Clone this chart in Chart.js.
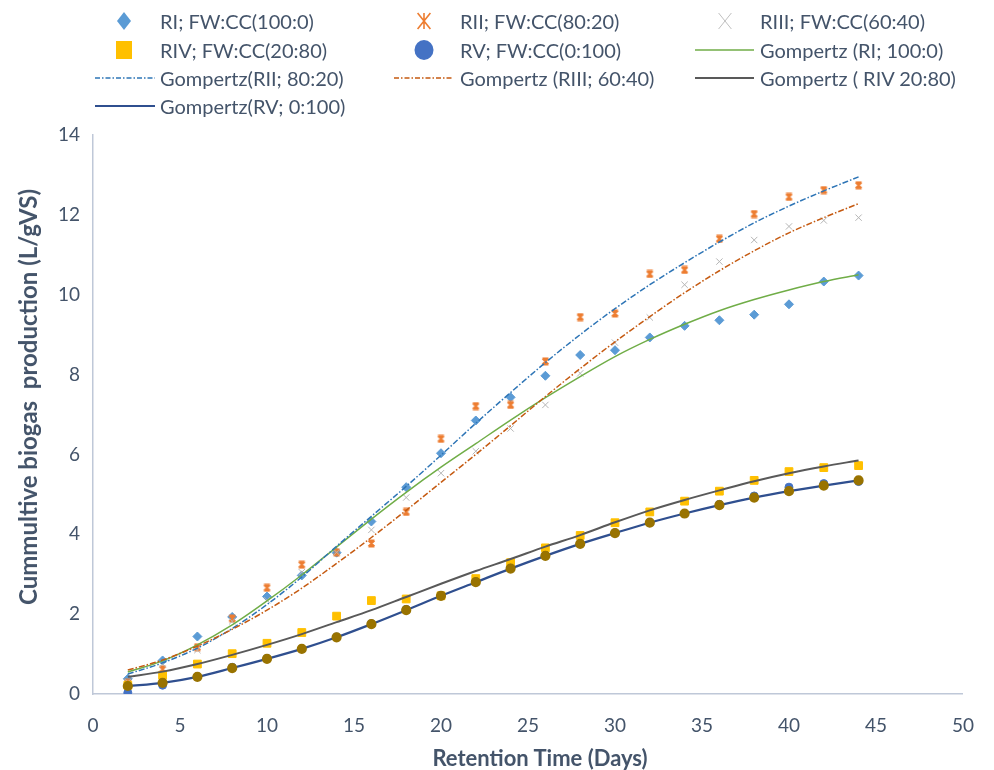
<!DOCTYPE html>
<html>
<head>
<meta charset="utf-8">
<script src="https://cdn.jsdelivr.net/npm/chart.js@4"></script>
<style>
  html, body { margin: 0; padding: 0; background: #fff; }
  #wrap { position: relative; width: 994px; height: 770px; }
  #c { position: absolute; left: 0; top: 0; }
  .lg { position: absolute; font-family: Lato, "Open Sans", sans-serif; font-size: 20px; color: #44546A; white-space: nowrap; line-height: 24px; }
  .mk { position: absolute; }
  .ttl { position: absolute; font-family: Lato, "Open Sans", sans-serif; font-weight: bold; color: #44546A; white-space: pre; line-height: 26px; }
  #xt { font-size: 22px; left: 540px; top: 758px; transform: translate(-50%, -50%); }
  #yt { font-size: 24px; left: 28px; top: 397px; transform: translate(-50%, -50%) rotate(-90deg); }
</style>
</head>
<body>
<div id="wrap">
  <canvas id="c" width="994" height="770"></canvas>
  <div id="legend"></div>
  <div class="ttl" id="xt"></div>
  <div class="ttl" id="yt"></div>
</div>
<script>
// ---- data ----
const days = [2,4,6,8,10,12,14,16,18,20,22,24,26,28,30,32,34,36,38,40,42,44];
const xTicks = [0,5,10,15,20,25,30,35,40,45,50];
const yTicks = [0,2,4,6,8,10,12,14];
const xTitle = 'Retention Time (Days)';
const yTitle = 'Cummultive biogas  production (L/gVS)';

const RI   = [0.38,0.84,1.44,1.93,2.44,2.97,3.54,4.32,5.18,6.03,6.85,7.43,7.97,8.49,8.61,8.93,9.22,9.36,9.50,9.76,10.33,10.48];
const RII  = [0.28,0.62,1.17,1.89,2.66,3.24,3.55,3.77,4.56,6.39,7.21,7.24,8.33,9.44,9.53,10.52,10.62,11.40,12.02,12.45,12.62,12.74];
const RIII = [0.30,0.75,1.10,1.82,2.35,3.05,3.55,4.11,4.92,5.53,6.08,6.65,7.24,8.03,8.80,9.43,10.25,10.83,11.37,11.71,11.86,11.93];
const RIV  = [0.22,0.47,0.75,1.01,1.27,1.54,1.95,2.34,2.38,2.46,2.89,3.29,3.66,3.97,4.29,4.56,4.83,5.08,5.35,5.57,5.67,5.72];
const RV   = [0.03,0.22,0.43,0.67,0.89,1.13,1.43,1.76,2.12,2.47,2.81,3.15,3.47,3.76,4.04,4.29,4.52,4.75,4.96,5.18,5.27,5.32];

const gRI   = [0.55,0.83,1.23,1.73,2.33,2.98,3.68,4.38,5.05,5.68,6.27,6.86,7.42,7.95,8.45,8.88,9.26,9.60,9.88,10.12,10.33,10.50];
const gRII  = [0.50,0.78,1.15,1.64,2.24,2.93,3.70,4.45,5.20,5.98,6.78,7.55,8.30,9.00,9.65,10.25,10.80,11.32,11.80,12.22,12.60,12.95];
const gRIII = [0.60,0.85,1.20,1.62,2.10,2.65,3.27,3.92,4.60,5.30,6.00,6.72,7.45,8.15,8.82,9.45,10.05,10.60,11.10,11.55,11.93,12.28];
const gRIV  = [0.43,0.56,0.75,0.98,1.23,1.50,1.80,2.10,2.43,2.76,3.08,3.38,3.69,3.98,4.30,4.60,4.86,5.10,5.33,5.53,5.70,5.85];
const gRV   = [0.20,0.28,0.43,0.65,0.88,1.13,1.42,1.75,2.10,2.46,2.80,3.14,3.46,3.76,4.03,4.29,4.52,4.73,4.92,5.08,5.22,5.35];

const labels = ["RI; FW:CC(100:0)","RII; FW:CC(80:20)","RIII; FW:CC(60:40)","RIV; FW:CC(20:80)","RV; FW:CC(0:100)",
  "Gompertz (RI; 100:0)","Gompertz(RII; 80:20)","Gompertz (RIII; 60:40)","Gompertz ( RIV 20:80)","Gompertz(RV; 0:100)"];

// ---- helpers ----
const toXY = arr => days.map((d,i) => ({x: d, y: arr[i]}));

function starMarker(color, size) {
  const c = document.createElement('canvas');
  c.width = size; c.height = size;
  const g = c.getContext('2d');
  const m = 1.5, s = size - 1.5;
  g.strokeStyle = color; g.lineWidth = 1.8;
  g.beginPath();
  g.moveTo(m, m); g.lineTo(s, s);
  g.moveTo(s, m); g.lineTo(m, s);
  g.moveTo(size/2, m - 0.5); g.lineTo(size/2, s + 0.5);
  g.moveTo(m, m); g.lineTo(s, m);
  g.moveTo(m, s); g.lineTo(s, s);
  g.stroke();
  return c;
}
const starImg = starMarker('#ED7D31', 9);

const scatterBase = { showLine: false, borderWidth: 1 };
const lineBase = { showLine: true, pointRadius: 0, cubicInterpolationMode: 'monotone', fill: false };

const datasets = [
  Object.assign({label: labels[0], data: toXY(RI), pointStyle: 'rectRot', pointRadius: 4.5, backgroundColor: '#5B9BD5', borderColor: '#5B9BD5', order: 10}, scatterBase),
  Object.assign({label: labels[1], data: toXY(RII), pointStyle: starImg, pointRadius: 4.5, backgroundColor: '#ED7D31', borderColor: '#ED7D31', order: 9}, scatterBase),
  Object.assign({label: labels[2], data: toXY(RIII), pointStyle: 'crossRot', pointRadius: 4.5, backgroundColor: '#BFBFBF', borderColor: '#B5B5B5', order: 8}, scatterBase),
  Object.assign({label: labels[3], data: toXY(RIV), pointStyle: 'rect', pointRadius: 5.5, backgroundColor: '#FFC000', borderColor: '#FFC000', order: 7}, scatterBase),
  Object.assign({label: labels[4], data: toXY(RV), pointStyle: 'circle', pointRadius: 4, backgroundColor: '#4472C4', borderColor: '#4472C4', order: 6}, scatterBase),
  Object.assign({label: labels[5], data: toXY(gRI), borderColor: '#70AD47', borderWidth: 1.5, order: 5}, lineBase),
  Object.assign({label: labels[6], data: toXY(gRII), borderColor: '#2E75B6', borderWidth: 1.5, borderDash: [6,2,1.5,2], order: 4}, lineBase),
  Object.assign({label: labels[7], data: toXY(gRIII), borderColor: '#C55A11', borderWidth: 1.5, borderDash: [6,2,1.5,2], order: 3}, lineBase),
  Object.assign({label: labels[8], data: toXY(gRIV), borderColor: '#595959', borderWidth: 2, order: 2}, lineBase),
  Object.assign({label: labels[9], data: toXY(gRV), borderColor: '#2F4F8F', borderWidth: 2.2, order: 1}, lineBase,
    {pointRadius: 4, pointStyle: 'circle', pointBackgroundColor: '#997300', pointBorderColor: '#997300'})
];

const tickColor = '#44546A';
const fontFam = 'Lato, "Open Sans", sans-serif';

new Chart(document.getElementById('c'), {
  type: 'scatter',
  data: { datasets },
  options: {
    responsive: false,
    animation: false,
    layout: { padding: { left: 0, right: 27, top: 135, bottom: 0 } },
    plugins: { legend: { display: false }, tooltip: { enabled: false } },
    scales: {
      x: {
        type: 'linear', min: 0, max: 50,
        afterBuildTicks: s => { s.ticks = xTicks.map(v => ({value: v})); },
        afterFit: s => { s.height = 770 - 694; },
        grid: { display: false, drawTicks: false },
        border: { display: true, color: '#BFC8D8', width: 1.5 },
        ticks: { color: tickColor, font: { family: fontFam, size: 19 }, padding: 20 }
      },
      y: {
        type: 'linear', min: 0, max: 14,
        afterBuildTicks: s => { s.ticks = yTicks.map(v => ({value: v})); },
        afterFit: s => { s.width = 93; },
        grid: { display: false, drawTicks: false },
        border: { display: true, color: '#BFC8D8', width: 1.5 },
        ticks: { color: tickColor, font: { family: fontFam, size: 19 }, padding: 13 }
      }
    }
  }
});

document.getElementById('xt').textContent = xTitle;
document.getElementById('yt').textContent = yTitle;

// ---- HTML legend (3 columns) ----
const svgNS = 'http://www.w3.org/2000/svg';
const cols = [{m: 124, l0: 95, l1: 155, t: 160}, {m: 424, l0: 394, l1: 453, t: 460}, {m: 725, l0: 695, l1: 754, t: 760}];
const rows = [21, 50, 78, 106];
const legendItems = [
  {kind: 'diamond', c: '#5B9BD5'}, {kind: 'star', c: '#ED7D31'}, {kind: 'x', c: '#BFBFBF'},
  {kind: 'square', c: '#FFC000'}, {kind: 'circle', c: '#4472C4'}, {kind: 'line', c: '#70AD47', w: 1.5},
  {kind: 'line', c: '#2E75B6', w: 1.5, dash: '5,2,1.5,2'}, {kind: 'line', c: '#C55A11', w: 1.5, dash: '5,2,1.5,2'}, {kind: 'line', c: '#595959', w: 2},
  {kind: 'line', c: '#2F4F8F', w: 2.2}
];
const lg = document.getElementById('legend');
legendItems.forEach((it, i) => {
  const col = cols[i % 3], y = rows[Math.floor(i / 3)];
  const svg = document.createElementNS(svgNS, 'svg');
  svg.setAttribute('class', 'mk');
  svg.setAttribute('width', 70); svg.setAttribute('height', 24);
  svg.style.left = (col.l0 - 5) + 'px'; svg.style.top = (y - 12) + 'px';
  const cx = col.m - (col.l0 - 5), cy = 12;
  let el;
  if (it.kind === 'line') {
    el = document.createElementNS(svgNS, 'line');
    el.setAttribute('x1', 5); el.setAttribute('x2', 5 + col.l1 - col.l0);
    el.setAttribute('y1', cy); el.setAttribute('y2', cy);
    el.setAttribute('stroke', it.c); el.setAttribute('stroke-width', it.w);
    if (it.dash) el.setAttribute('stroke-dasharray', it.dash);
  } else if (it.kind === 'diamond') {
    el = document.createElementNS(svgNS, 'polygon');
    el.setAttribute('points', `${cx},${cy-9} ${cx+7},${cy} ${cx},${cy+9} ${cx-7},${cy}`);
    el.setAttribute('fill', it.c);
  } else if (it.kind === 'square') {
    el = document.createElementNS(svgNS, 'rect');
    el.setAttribute('x', cx - 8); el.setAttribute('y', cy - 9); el.setAttribute('width', 16); el.setAttribute('height', 18);
    el.setAttribute('fill', it.c);
  } else if (it.kind === 'circle') {
    el = document.createElementNS(svgNS, 'ellipse');
    el.setAttribute('cx', cx); el.setAttribute('cy', cy); el.setAttribute('rx', 9.5); el.setAttribute('ry', 10);
    el.setAttribute('fill', it.c);
  } else if (it.kind === 'star' || it.kind === 'x') {
    el = document.createElementNS(svgNS, 'path');
    const r = 8;
    let d = `M${cx-r*0.8},${cy-r} L${cx+r*0.8},${cy+r} M${cx+r*0.8},${cy-r} L${cx-r*0.8},${cy+r}`;
    if (it.kind === 'star') d += ` M${cx},${cy-r} L${cx},${cy+r}`;
    el.setAttribute('d', d);
    el.setAttribute('stroke', it.c); el.setAttribute('stroke-width', it.kind === 'star' ? 1.6 : 1);
    el.setAttribute('fill', 'none');
  }
  svg.appendChild(el);
  lg.appendChild(svg);
  const t = document.createElement('div');
  t.className = 'lg';
  t.textContent = labels[i];
  t.style.left = col.t + 'px'; t.style.top = (y - 12) + 'px';
  lg.appendChild(t);
});
</script>
</body>
</html>
